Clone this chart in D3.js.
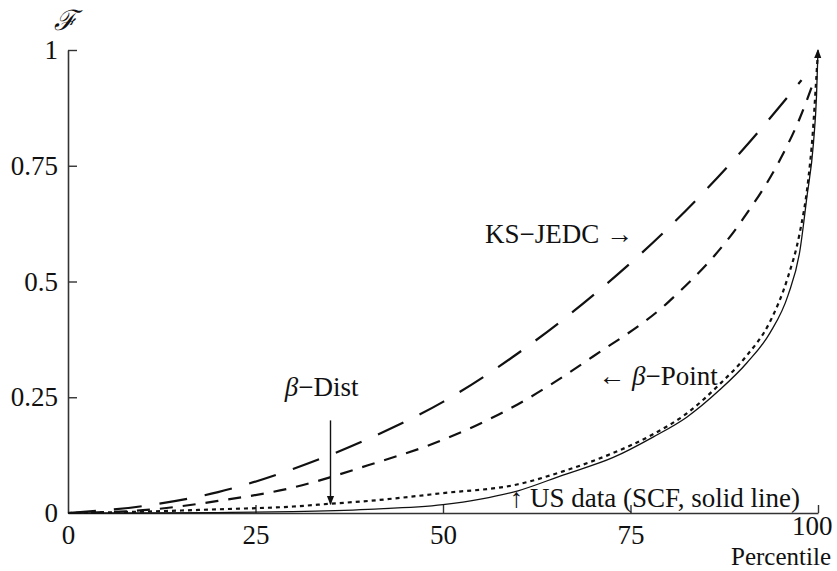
<!DOCTYPE html>
<html>
<head>
<meta charset="utf-8">
<script src="https://cdn.jsdelivr.net/npm/d3@7"></script>
<style>
  body { margin: 0; background: #fff; }
  svg text { font-family: "Liberation Serif", "Times New Roman", serif; fill: #111; }
</style>
</head>
<body>
<div id="container"></div>
<script>
// percentiles and cumulative share for each curve
const ksX = [0, 10, 20, 30, 40, 50, 60, 70, 80, 90, 97.8];
const ksY = [0, 0.015, 0.045, 0.095, 0.16, 0.24, 0.345, 0.47, 0.615, 0.785, 0.935];

const pointX = [0, 10, 20, 30, 40, 50, 60, 70, 80, 90, 95, 97.5, 99.5];
const pointY = [0, 0.006, 0.026, 0.055, 0.103, 0.158, 0.235, 0.338, 0.455, 0.635, 0.765, 0.85, 0.935];

const distX = [0, 10, 20, 30, 35, 40, 50, 60, 66, 72, 78, 82.5, 87, 90.5, 93.5, 96, 97.5, 98.7, 99.3, 99.7, 100];
const distY = [0, 0.003, 0.008, 0.014, 0.02, 0.026, 0.043, 0.062, 0.09, 0.125, 0.17, 0.215, 0.28, 0.34, 0.41, 0.51, 0.6, 0.72, 0.82, 0.92, 1];

const usX = [0, 10, 20, 30, 40, 50, 55, 60, 66, 72.7, 78, 82.5, 86.9, 90.5, 93.6, 96, 97.6, 98.5, 99.4, 99.8, 100];
const usY = [0, 0, 0.001, 0.003, 0.008, 0.018, 0.03, 0.048, 0.082, 0.12, 0.164, 0.207, 0.266, 0.324, 0.389, 0.47, 0.568, 0.68, 0.8, 0.9, 1];

const xTicks = [0, 25, 50, 75, 100];
const yTicks = [0, 0.25, 0.5, 0.75, 1];
const yTickLabels = ["0", "0.25", "0.5", "0.75", "1"];

const width = 837, height = 571;
const fs = 27;

const svg = d3.select("#container")
  .append("svg")
  .attr("width", width)
  .attr("height", height);

const x = d3.scaleLinear().domain([0, 100]).range([68, 818]);
const y = d3.scaleLinear().domain([0, 1]).range([513, 50]);

svg.append("defs")
  .append("marker")
  .attr("id", "head")
  .attr("viewBox", "0 0 10 10")
  .attr("refX", 9)
  .attr("refY", 5)
  .attr("markerWidth", 9)
  .attr("markerHeight", 9)
  .attr("markerUnits", "userSpaceOnUse")
  .attr("orient", "auto")
  .append("path")
  .attr("d", "M0,1 L10,5 L0,9 Z")
  .attr("fill", "#111");

// axes
const xAxis = d3.axisBottom(x)
  .tickValues(xTicks)
  .tickSizeInner(-8)
  .tickSizeOuter(0)
  .tickPadding(12)
  .tickFormat(d3.format("d"));

const yAxis = d3.axisLeft(y)
  .tickValues(yTicks)
  .tickSizeInner(-9)
  .tickSizeOuter(0)
  .tickPadding(10)
  .tickFormat((d, i) => yTickLabels[i]);

const gx = svg.append("g")
  .attr("transform", `translate(0, ${y(0)})`)
  .call(xAxis);

const gy = svg.append("g")
  .attr("transform", `translate(${x(0)}, 0)`)
  .call(yAxis);

[gx, gy].forEach(g => {
  g.select(".domain").attr("stroke", "#333").attr("stroke-width", 1.6);
  g.selectAll(".tick line").attr("stroke", "#333").attr("stroke-width", 1.4);
  g.selectAll(".tick text")
    .attr("font-size", fs)
    .attr("font-family", "Liberation Serif")
    .attr("fill", "#111");
});
gx.selectAll(".tick").filter(d => d === 0).select("line").remove();
gy.selectAll(".tick").filter(d => d === 0).select("line").remove();
// last x label sits a little left and up so it clears the axis title
gx.selectAll(".tick").filter(d => d === 100).select("text")
  .attr("text-anchor", "end").attr("dx", 14).attr("y", 3);

// curves
const line = d3.line()
  .x(d => x(d[0]))
  .y(d => y(d[1]))
  .curve(d3.curveMonotoneX);

const zip = (a, b) => a.map((v, i) => [v, b[i]]);

svg.append("path")
  .datum(zip(ksX, ksY))
  .attr("d", line)
  .attr("fill", "none")
  .attr("stroke", "#111")
  .attr("stroke-width", 2.2)
  .attr("stroke-dasharray", "28,18");

svg.append("path")
  .datum(zip(pointX, pointY))
  .attr("d", line)
  .attr("fill", "none")
  .attr("stroke", "#111")
  .attr("stroke-width", 2.2)
  .attr("stroke-dasharray", "13,10");

svg.append("path")
  .datum(zip(usX, usY))
  .attr("d", line)
  .attr("fill", "none")
  .attr("stroke", "#111")
  .attr("stroke-width", 1.3)
  .attr("marker-end", "url(#head)");

svg.append("path")
  .datum(zip(distX, distY))
  .attr("d", line)
  .attr("fill", "none")
  .attr("stroke", "#111")
  .attr("stroke-width", 2.2)
  .attr("stroke-dasharray", "4,4");

// beta-Dist pointer
svg.append("line")
  .attr("x1", x(35)).attr("x2", x(35))
  .attr("y1", y(0.2)).attr("y2", y(0.019))
  .attr("stroke", "#111")
  .attr("stroke-width", 1.4)
  .attr("marker-end", "url(#head)");

// labels
svg.append("text")
  .attr("x", 54).attr("y", 30)
  .attr("font-size", 28)
  .attr("font-style", "italic")
  .style("font-family", "DejaVu Serif")
  .text("ℱ");

const distLab = svg.append("text")
  .attr("x", x(28.9)).attr("y", y(0.253))
  .attr("font-size", fs);
distLab.append("tspan").attr("font-style", "italic").text("β");
distLab.append("tspan").text("−Dist");

svg.append("text")
  .attr("x", x(55.6)).attr("y", y(0.583))
  .attr("font-size", fs)
  .text("KS−JEDC →");

const pointLab = svg.append("text")
  .attr("x", x(70.7)).attr("y", y(0.276))
  .attr("font-size", fs);
pointLab.append("tspan").text("← ");
pointLab.append("tspan").attr("font-style", "italic").text("β");
pointLab.append("tspan").text("−Point");

svg.append("text")
  .attr("x", x(58.9)).attr("y", y(0.013))
  .attr("font-size", fs)
  .text("↑ US data (SCF, solid line)");

svg.append("text")
  .attr("x", 831).attr("y", 565)
  .attr("text-anchor", "end")
  .attr("font-size", 25)
  .text("Percentile");
</script>
</body>
</html>
